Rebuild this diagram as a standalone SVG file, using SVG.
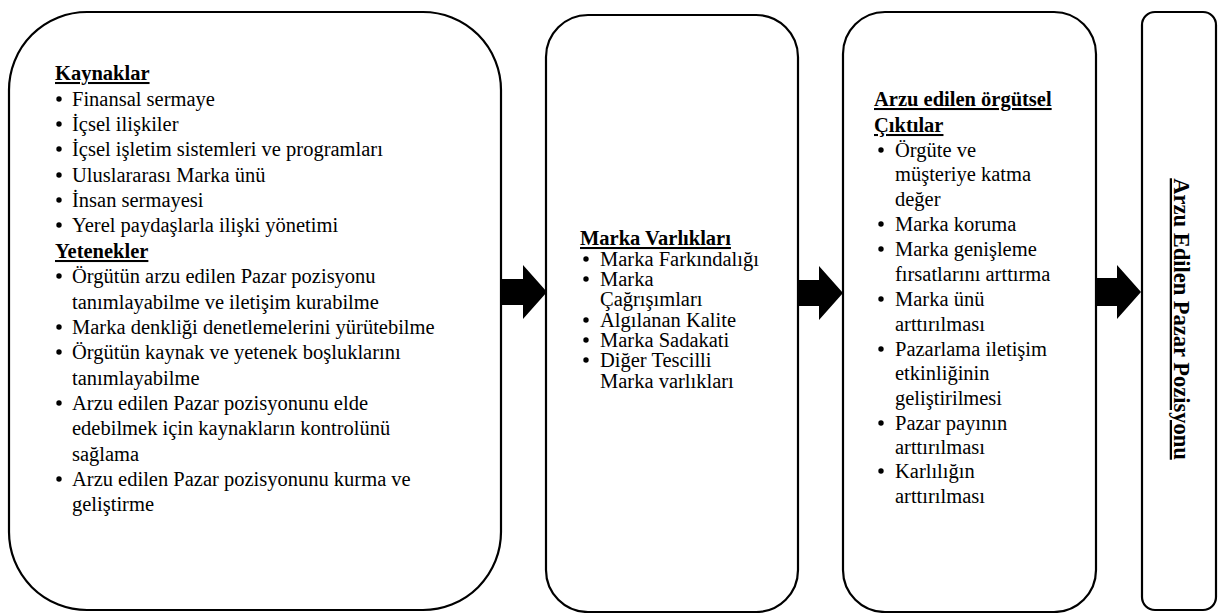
<svg xmlns="http://www.w3.org/2000/svg" width="1219" height="613" viewBox="0 0 1219 613" font-family="'Liberation Serif', 'DejaVu Serif', serif" font-size="20.5">
  <style>
    .box { fill: #fff; stroke: #000; stroke-width: 2.2; }
    .arrow { fill: #000; }
    .dot { fill: #000; }
    .t { font-family: 'Liberation Serif', 'DejaVu Serif', serif; fill: #000; }
    .head { font-weight: bold; text-decoration: underline; }
    .vert { font-size: 22.5px; }
  </style>
  <defs>
    <circle id="bullet" class="dot" cx="0" cy="0" r="2.7"/>
  </defs>

  <!-- resources and capabilities -->
  <g id="resources" class="t">
    <rect class="box" x="9" y="12" width="492" height="598" rx="78" ry="78"/>
    <text class="head" x="55" y="80">Kaynaklar</text>
    <use href="#bullet" x="59" y="99"/><text x="72" y="106">Finansal sermaye</text>
    <use href="#bullet" x="59" y="124"/><text x="72" y="131">İçsel ilişkiler</text>
    <use href="#bullet" x="59" y="149"/><text x="72" y="156">İçsel işletim sistemleri ve programları</text>
    <use href="#bullet" x="59" y="175"/><text x="72" y="182">Uluslararası Marka ünü</text>
    <use href="#bullet" x="59" y="200"/><text x="72" y="207">İnsan sermayesi</text>
    <use href="#bullet" x="59" y="225"/><text x="72" y="232">Yerel paydaşlarla ilişki yönetimi</text>
    <text class="head" x="55" y="258">Yetenekler</text>
    <use href="#bullet" x="59" y="276"/><text x="72" y="283">Örgütün arzu edilen Pazar pozisyonu</text>
    <text x="72" y="309">tanımlayabilme ve iletişim kurabilme</text>
    <use href="#bullet" x="59" y="327"/><text x="72" y="334">Marka denkliği denetlemelerini yürütebilme</text>
    <use href="#bullet" x="59" y="352"/><text x="72" y="359">Örgütün kaynak ve yetenek boşluklarını</text>
    <text x="72" y="385">tanımlayabilme</text>
    <use href="#bullet" x="59" y="403"/><text x="72" y="410">Arzu edilen Pazar pozisyonunu elde</text>
    <text x="72" y="435">edebilmek için kaynakların kontrolünü</text>
    <text x="72" y="461">sağlama</text>
    <use href="#bullet" x="59" y="479"/><text x="72" y="486">Arzu edilen Pazar pozisyonunu kurma ve</text>
    <text x="72" y="511">geliştirme</text>
  </g>

  <!-- brand assets -->
  <g id="brand-assets" class="t">
    <rect class="box" x="546" y="15" width="252" height="597" rx="42" ry="42"/>
    <text class="head" x="580" y="245">Marka Varlıkları</text>
    <use href="#bullet" x="586" y="259"/><text x="600" y="266">Marka Farkındalığı</text>
    <use href="#bullet" x="586" y="279"/><text x="600" y="286">Marka</text>
    <text x="600" y="306">Çağrışımları</text>
    <use href="#bullet" x="586" y="320"/><text x="600" y="327">Algılanan Kalite</text>
    <use href="#bullet" x="586" y="340"/><text x="600" y="347">Marka Sadakati</text>
    <use href="#bullet" x="586" y="360"/><text x="600" y="367">Diğer Tescilli</text>
    <text x="600" y="388">Marka varlıkları</text>
  </g>

  <!-- desired organisational outcomes -->
  <g id="outcomes" class="t">
    <rect class="box" x="843" y="12" width="253" height="600" rx="42" ry="42"/>
    <text class="head" x="874" y="106">Arzu edilen örgütsel</text>
    <text class="head" x="874" y="132">Çıktılar</text>
    <use href="#bullet" x="881" y="150"/><text x="895" y="157">Örgüte ve</text>
    <text x="895" y="181">müşteriye katma</text>
    <text x="895" y="206">değer</text>
    <use href="#bullet" x="881" y="224"/><text x="895" y="231">Marka koruma</text>
    <use href="#bullet" x="881" y="249"/><text x="895" y="256">Marka genişleme</text>
    <text x="895" y="281">fırsatlarını arttırma</text>
    <use href="#bullet" x="881" y="299"/><text x="895" y="306">Marka ünü</text>
    <text x="895" y="331">arttırılması</text>
    <use href="#bullet" x="881" y="349"/><text x="895" y="356">Pazarlama iletişim</text>
    <text x="895" y="380">etkinliğinin</text>
    <text x="895" y="405">geliştirilmesi</text>
    <use href="#bullet" x="881" y="423"/><text x="895" y="430">Pazar payının</text>
    <text x="895" y="454">arttırılması</text>
    <use href="#bullet" x="881" y="471"/><text x="895" y="478">Karlılığın</text>
    <text x="895" y="503">arttırılması</text>
  </g>

  <!-- desired market position -->
  <g id="market-position" class="t">
    <rect class="box" x="1142" y="12" width="74" height="598" rx="13" ry="13"/>
    <text class="head vert" transform="translate(1174 319) rotate(90)" text-anchor="middle">Arzu Edilen Pazar Pozisyonu</text>
  </g>

  <!-- block arrows between stages -->
  <g id="connectors">
    <polygon class="arrow" points="501,279 523,279 523,265 547,292 523,319 523,305 501,305"/>
    <polygon class="arrow" points="797,280 819,280 819,266 843,293 819,320 819,306 797,306"/>
    <polygon class="arrow" points="1095,278 1117,278 1117,265 1141,292 1117,319 1117,306 1095,306"/>
  </g>
</svg>
